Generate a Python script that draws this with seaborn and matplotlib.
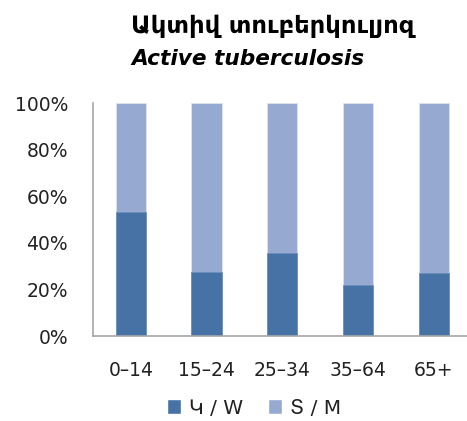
import numpy as np
import pandas as pd
import seaborn as sns
import matplotlib.pyplot as plt
from matplotlib.patches import Patch
from matplotlib.ticker import PercentFormatter

ages = ['0–14', '15–24', '25–34', '35–64', '65+']
women = [53.1, 27.3, 35.6, 21.8, 27.2]
men = [46.9, 72.7, 64.4, 78.2, 72.8]

dark = '#4672A6'
light = '#95A9D1'

df = pd.DataFrame({'age': ages, 'W': women, 'M': men})
df['total'] = df['W'] + df['M']

sns.set_style('white')
plt.rcParams['font.family'] = ['DejaVu Sans']

fig = plt.figure(figsize=(4.67, 4.21), dpi=100)
ax = fig.add_axes([93 / 467, 1 - 336 / 421, 1 - 93 / 467, (336 - 103.3) / 421])

# stacked: full bar (light) first, then women share on top
sns.barplot(data=df, x='age', y='total', color=light, width=0.4, saturation=1,
            edgecolor='#dde4f0', linewidth=0.6, ax=ax)
sns.barplot(data=df, x='age', y='W', color=dark, width=0.4, saturation=1,
            edgecolor='#6f8fba', linewidth=0.6, ax=ax)

ax.set_xlim(-0.5, 4.44)
ax.set_ylim(0, 100)
ax.set_yticks(np.arange(0, 101, 20))
ax.yaxis.set_major_formatter(PercentFormatter(decimals=0))
ax.set_xlabel('')
ax.set_ylabel('')
ax.tick_params(axis='y', length=0, pad=18, labelsize=13.5, labelcolor='#222222')
ax.tick_params(axis='x', length=0, pad=18, labelsize=13.5, labelcolor='#222222')

for side in ['top', 'right']:
    ax.spines[side].set_visible(False)
for side in ['left', 'bottom']:
    ax.spines[side].set_color('#a6a6a6')
    ax.spines[side].set_linewidth(1.2)

fig.text(131 / 467, 1 - 26 / 421, 'Ակտիվ տուբերկուլյոզ', fontsize=17.5,
         fontweight='bold', ha='left', va='center', color='black')
fig.text(131 / 467, 1 - 59 / 421, 'Active tuberculosis', fontsize=15.6,
         fontweight='bold', style='italic', ha='left', va='center', color='black')

handles = [Patch(facecolor=dark), Patch(facecolor=light)]
fig.legend(handles, ['Կ / W', 'Տ / M'], loc='center', bbox_to_anchor=(254 / 467, 1 - 408 / 421),
           ncol=2, frameon=False, fontsize=14.5, handlelength=0.7, handleheight=0.7,
           handletextpad=0.4, columnspacing=1.2, labelcolor='#222222')

fig.savefig('out.png', dpi=100)
